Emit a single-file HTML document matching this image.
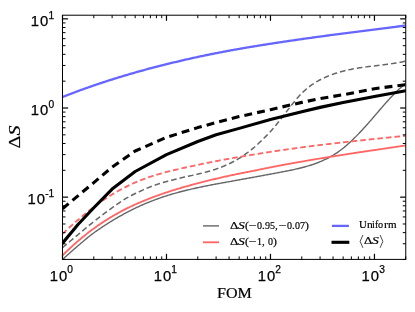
<!DOCTYPE html><html><head><meta charset="utf-8"><title>chart</title><style>

html,body{margin:0;padding:0;background:#fff;}
body{width:415px;height:312px;position:relative;overflow:hidden;font-family:"Liberation Sans",sans-serif;color:#000;}
.t{position:absolute;white-space:nowrap;line-height:1;}
#txt{position:absolute;left:0;top:0;width:415px;height:312px;will-change:transform;transform:translateZ(0);}
.tl{font-family:"Liberation Sans",sans-serif;font-size:14.8px;letter-spacing:1.0px;-webkit-text-stroke:0.25px #000;}
.tl sup{font-size:10.2px;position:relative;vertical-align:baseline;top:-7.5px;letter-spacing:0;margin-left:-0.8px}
.se{font-family:"Liberation Serif",serif;-webkit-text-stroke:0.2px #000;}
.lg{font-family:"Liberation Serif",serif;font-size:10.8px;}
i{font-style:italic}

</style></head><body>
<svg width="415" height="312" viewBox="0 0 415 312" style="position:absolute;left:0;top:0">
<rect x="0" y="0" width="415" height="312" fill="#ffffff"/>
<defs><clipPath id="c"><rect x="62.5" y="15.2" width="343.25" height="244.2"/></clipPath></defs>
<g clip-path="url(#c)" fill="none" stroke-linejoin="round">
<path d="M62.50,259.55 L63.48,258.64 L64.47,257.73 L65.45,256.83 L66.43,255.94 L67.42,255.04 L68.40,254.16 L69.38,253.28 L70.37,252.40 L71.35,251.53 L72.34,250.66 L73.32,249.80 L74.30,248.95 L75.29,248.10 L76.27,247.25 L77.25,246.41 L78.24,245.58 L79.22,244.75 L80.20,243.92 L81.19,243.08 L82.17,242.24 L83.15,241.41 L84.14,240.58 L85.12,239.76 L86.10,238.95 L87.09,238.13 L88.07,237.33 L89.06,236.53 L90.04,235.74 L91.02,234.95 L92.01,234.17 L92.99,233.46 L93.97,232.75 L94.96,232.05 L95.94,231.36 L96.92,230.68 L97.91,229.99 L98.89,229.32 L99.87,228.65 L100.86,227.99 L101.84,227.33 L102.82,226.68 L103.81,226.03 L104.79,225.39 L105.78,224.75 L106.76,224.12 L107.74,223.50 L108.73,222.88 L109.71,222.27 L110.69,221.66 L111.68,221.05 L112.66,220.45 L113.64,219.86 L114.63,219.27 L115.61,218.68 L116.59,218.11 L117.58,217.53 L118.56,216.97 L119.54,216.41 L120.53,215.86 L121.51,215.31 L122.49,214.77 L123.48,214.23 L124.46,213.71 L125.45,213.18 L126.43,212.65 L127.41,212.13 L128.40,211.61 L129.38,211.10 L130.36,210.59 L131.35,210.10 L132.33,209.60 L133.31,209.12 L134.30,208.64 L135.28,208.16 L136.26,207.69 L137.25,207.23 L138.23,206.77 L139.21,206.32 L140.20,205.88 L141.18,205.44 L142.17,205.00 L143.15,204.57 L144.13,204.15 L145.12,203.73 L146.10,203.32 L147.08,202.91 L148.07,202.50 L149.05,202.11 L150.03,201.71 L151.02,201.33 L152.00,200.94 L152.98,200.56 L153.97,200.19 L154.95,199.82 L155.93,199.46 L156.92,199.10 L157.90,198.74 L158.89,198.39 L159.87,198.05 L160.85,197.70 L161.84,197.37 L162.82,197.03 L163.80,196.70 L164.79,196.38 L165.77,196.06 L166.75,195.74 L167.74,195.43 L168.72,195.12 L169.70,194.82 L170.69,194.52 L171.67,194.23 L172.65,193.94 L173.64,193.66 L174.62,193.38 L175.61,193.10 L176.59,192.83 L177.57,192.56 L178.56,192.29 L179.54,192.03 L180.52,191.77 L181.51,191.52 L182.49,191.26 L183.47,191.01 L184.46,190.77 L185.44,190.52 L186.42,190.28 L187.41,190.04 L188.39,189.81 L189.37,189.57 L190.36,189.34 L191.34,189.12 L192.33,188.89 L193.31,188.67 L194.29,188.45 L195.28,188.23 L196.26,188.02 L197.24,187.80 L198.23,187.59 L199.21,187.38 L200.19,187.18 L201.18,186.97 L202.16,186.76 L203.14,186.56 L204.13,186.36 L205.11,186.16 L206.09,185.96 L207.08,185.76 L208.06,185.57 L209.05,185.37 L210.03,185.18 L211.01,184.99 L212.00,184.80 L212.98,184.61 L213.96,184.43 L214.95,184.24 L215.93,184.06 L216.91,183.88 L217.90,183.69 L218.88,183.51 L219.86,183.33 L220.85,183.15 L221.83,182.98 L222.81,182.80 L223.80,182.62 L224.78,182.45 L225.77,182.27 L226.75,182.10 L227.73,181.92 L228.72,181.75 L229.70,181.58 L230.68,181.40 L231.67,181.21 L232.65,181.03 L233.63,180.85 L234.62,180.67 L235.60,180.49 L236.58,180.31 L237.57,180.13 L238.55,179.95 L239.53,179.77 L240.52,179.59 L241.50,179.41 L242.48,179.23 L243.47,179.05 L244.45,178.87 L245.44,178.69 L246.42,178.51 L247.40,178.34 L248.39,178.16 L249.37,177.98 L250.35,177.80 L251.34,177.62 L252.32,177.45 L253.30,177.27 L254.29,177.09 L255.27,176.91 L256.25,176.73 L257.24,176.55 L258.22,176.37 L259.20,176.19 L260.19,176.01 L261.17,175.82 L262.16,175.64 L263.14,175.46 L264.12,175.28 L265.11,175.10 L266.09,174.92 L267.07,174.74 L268.06,174.55 L269.04,174.37 L270.02,174.19 L271.01,174.00 L271.99,173.82 L272.97,173.64 L273.96,173.45 L274.94,173.27 L275.92,173.08 L276.91,172.90 L277.89,172.71 L278.88,172.53 L279.86,172.34 L280.84,172.16 L281.83,171.97 L282.81,171.78 L283.79,171.59 L284.78,171.40 L285.76,171.21 L286.74,171.02 L287.73,170.83 L288.71,170.64 L289.69,170.45 L290.68,170.25 L291.66,170.03 L292.64,169.81 L293.63,169.60 L294.61,169.38 L295.60,169.15 L296.58,168.93 L297.56,168.70 L298.55,168.47 L299.53,168.23 L300.51,167.99 L301.50,167.75 L302.48,167.50 L303.46,167.25 L304.45,166.98 L305.43,166.72 L306.41,166.44 L307.40,166.16 L308.38,165.88 L309.36,165.58 L310.35,165.28 L311.33,164.96 L312.32,164.64 L313.30,164.31 L314.28,163.97 L315.27,163.62 L316.25,163.26 L317.23,162.89 L318.22,162.50 L319.20,162.11 L320.18,161.70 L321.17,161.28 L322.15,160.85 L323.13,160.40 L324.12,159.94 L325.10,159.47 L326.08,159.00 L327.07,158.52 L328.05,158.02 L329.04,157.51 L330.02,156.98 L331.00,156.44 L331.99,155.87 L332.97,155.30 L333.95,154.70 L334.94,154.08 L335.92,153.45 L336.90,152.80 L337.89,152.13 L338.87,151.44 L339.85,150.73 L340.84,150.00 L341.82,149.25 L342.80,148.47 L343.79,147.68 L344.77,146.88 L345.76,146.05 L346.74,145.20 L347.72,144.34 L348.71,143.46 L349.69,142.57 L350.67,141.66 L351.66,140.73 L352.64,139.79 L353.62,138.83 L354.61,137.86 L355.59,136.88 L356.57,135.88 L357.56,134.88 L358.54,133.86 L359.52,132.82 L360.51,131.78 L361.49,130.73 L362.47,129.66 L363.46,128.59 L364.44,127.51 L365.43,126.42 L366.41,125.32 L367.39,124.22 L368.38,123.10 L369.36,121.98 L370.34,120.86 L371.33,119.73 L372.31,118.59 L373.29,117.45 L374.28,116.31 L375.26,115.16 L376.24,114.01 L377.23,112.86 L378.21,111.71 L379.19,110.57 L380.18,109.42 L381.16,108.28 L382.15,107.14 L383.13,106.01 L384.11,104.88 L385.10,103.76 L386.08,102.65 L387.06,101.55 L388.05,100.45 L389.03,99.37 L390.01,98.29 L391.00,97.23 L391.98,96.18 L392.96,95.15 L393.95,94.13 L394.93,93.13 L395.91,92.14 L396.90,91.18 L397.88,90.23 L398.87,89.30 L399.85,88.39 L400.83,87.50 L401.82,86.64 L402.80,85.81 L403.78,84.99 L404.77,84.20 L405.75,83.44" stroke="#666666" stroke-width="1.4"/>
<path d="M62.50,247.73 L63.48,246.87 L64.47,246.01 L65.45,245.16 L66.43,244.32 L67.42,243.49 L68.40,242.66 L69.38,241.84 L70.37,241.03 L71.35,240.22 L72.34,239.42 L73.32,238.63 L74.30,237.84 L75.29,237.03 L76.27,236.17 L77.25,235.32 L78.24,234.48 L79.22,233.64 L80.20,232.80 L81.19,231.97 L82.17,231.14 L83.15,230.32 L84.14,229.50 L85.12,228.68 L86.10,227.87 L87.09,227.06 L88.07,226.26 L89.06,225.45 L90.04,224.66 L91.02,223.86 L92.01,223.07 L92.99,222.28 L93.97,221.49 L94.96,220.70 L95.94,219.91 L96.92,219.13 L97.91,218.35 L98.89,217.57 L99.87,216.79 L100.86,216.06 L101.84,215.33 L102.82,214.60 L103.81,213.88 L104.79,213.15 L105.78,212.43 L106.76,211.71 L107.74,210.99 L108.73,210.27 L109.71,209.56 L110.69,208.84 L111.68,208.14 L112.66,207.43 L113.64,206.73 L114.63,206.03 L115.61,205.33 L116.59,204.64 L117.58,203.96 L118.56,203.28 L119.54,202.61 L120.53,201.94 L121.51,201.27 L122.49,200.62 L123.48,199.97 L124.46,199.32 L125.45,198.72 L126.43,198.16 L127.41,197.61 L128.40,197.07 L129.38,196.54 L130.36,196.01 L131.35,195.50 L132.33,194.99 L133.31,194.49 L134.30,194.00 L135.28,193.53 L136.26,193.06 L137.25,192.60 L138.23,192.16 L139.21,191.72 L140.20,191.29 L141.18,190.81 L142.17,190.34 L143.15,189.88 L144.13,189.43 L145.12,188.99 L146.10,188.57 L147.08,188.15 L148.07,187.74 L149.05,187.34 L150.03,186.95 L151.02,186.57 L152.00,186.19 L152.98,185.83 L153.97,185.47 L154.95,185.12 L155.93,184.78 L156.92,184.45 L157.90,184.12 L158.89,183.80 L159.87,183.49 L160.85,183.18 L161.84,182.88 L162.82,182.59 L163.80,182.30 L164.79,182.02 L165.77,181.74 L166.75,181.46 L167.74,181.20 L168.72,180.93 L169.70,180.67 L170.69,180.41 L171.67,180.16 L172.65,179.91 L173.64,179.66 L174.62,179.42 L175.61,179.18 L176.59,178.94 L177.57,178.70 L178.56,178.47 L179.54,178.23 L180.52,178.00 L181.51,177.77 L182.49,177.54 L183.47,177.31 L184.46,177.08 L185.44,176.86 L186.42,176.65 L187.41,176.45 L188.39,176.24 L189.37,176.03 L190.36,175.82 L191.34,175.61 L192.33,175.39 L193.31,175.18 L194.29,174.96 L195.28,174.74 L196.26,174.52 L197.24,174.30 L198.23,174.07 L199.21,173.83 L200.19,173.60 L201.18,173.36 L202.16,173.12 L203.14,172.87 L204.13,172.61 L205.11,172.36 L206.09,172.09 L207.08,171.83 L208.06,171.55 L209.05,171.27 L210.03,170.98 L211.01,170.69 L212.00,170.38 L212.98,170.07 L213.96,169.76 L214.95,169.43 L215.93,169.10 L216.91,168.76 L217.90,168.41 L218.88,168.05 L219.86,167.69 L220.85,167.31 L221.83,166.93 L222.81,166.54 L223.80,166.13 L224.78,165.72 L225.77,165.30 L226.75,164.86 L227.73,164.42 L228.72,163.96 L229.70,163.50 L230.68,163.02 L231.67,162.53 L232.65,162.03 L233.63,161.52 L234.62,160.99 L235.60,160.44 L236.58,159.88 L237.57,159.30 L238.55,158.71 L239.53,158.11 L240.52,157.49 L241.50,156.86 L242.48,156.22 L243.47,155.55 L244.45,154.88 L245.44,154.19 L246.42,153.48 L247.40,152.76 L248.39,152.02 L249.37,151.27 L250.35,150.50 L251.34,149.71 L252.32,148.91 L253.30,148.09 L254.29,147.26 L255.27,146.40 L256.25,145.53 L257.24,144.64 L258.22,143.74 L259.20,142.82 L260.19,141.88 L261.17,140.92 L262.16,139.95 L263.14,139.03 L264.12,138.08 L265.11,137.12 L266.09,136.14 L267.07,135.14 L268.06,134.12 L269.04,133.08 L270.02,132.02 L271.01,130.95 L271.99,129.85 L272.97,128.73 L273.96,127.60 L274.94,126.45 L275.92,125.28 L276.91,124.04 L277.89,122.79 L278.88,121.53 L279.86,120.26 L280.84,118.98 L281.83,117.70 L282.81,116.43 L283.79,115.15 L284.78,113.88 L285.76,112.61 L286.74,111.34 L287.73,110.09 L288.71,108.84 L289.69,107.61 L290.68,106.35 L291.66,105.08 L292.64,103.82 L293.63,102.58 L294.61,101.37 L295.60,100.17 L296.58,98.99 L297.56,97.84 L298.55,96.71 L299.53,95.61 L300.51,94.55 L301.50,93.55 L302.48,92.57 L303.46,91.63 L304.45,90.72 L305.43,89.83 L306.41,88.98 L307.40,88.15 L308.38,87.36 L309.36,86.59 L310.35,85.85 L311.33,85.13 L312.32,84.44 L313.30,83.77 L314.28,83.12 L315.27,82.50 L316.25,81.91 L317.23,81.34 L318.22,80.79 L319.20,80.26 L320.18,79.75 L321.17,79.25 L322.15,78.76 L323.13,78.29 L324.12,77.83 L325.10,77.39 L326.08,76.96 L327.07,76.53 L328.05,76.12 L329.04,75.73 L330.02,75.34 L331.00,74.96 L331.99,74.60 L332.97,74.24 L333.95,73.90 L334.94,73.57 L335.92,73.24 L336.90,72.93 L337.89,72.63 L338.87,72.33 L339.85,72.04 L340.84,71.77 L341.82,71.50 L342.80,71.24 L343.79,70.99 L344.77,70.74 L345.76,70.50 L346.74,70.27 L347.72,70.05 L348.71,69.84 L349.69,69.63 L350.67,69.43 L351.66,69.23 L352.64,69.04 L353.62,68.85 L354.61,68.67 L355.59,68.50 L356.57,68.33 L357.56,68.17 L358.54,68.01 L359.52,67.85 L360.51,67.70 L361.49,67.56 L362.47,67.41 L363.46,67.27 L364.44,67.14 L365.43,67.00 L366.41,66.87 L367.39,66.74 L368.38,66.61 L369.36,66.49 L370.34,66.37 L371.33,66.25 L372.31,66.13 L373.29,66.01 L374.28,65.89 L375.26,65.77 L376.24,65.65 L377.23,65.54 L378.21,65.42 L379.19,65.30 L380.18,65.18 L381.16,65.06 L382.15,64.94 L383.13,64.82 L384.11,64.70 L385.10,64.57 L386.08,64.45 L387.06,64.32 L388.05,64.19 L389.03,64.05 L390.01,63.91 L391.00,63.77 L391.98,63.63 L392.96,63.48 L393.95,63.33 L394.93,63.18 L395.91,63.02 L396.90,62.85 L397.88,62.68 L398.87,62.51 L399.85,62.33 L400.83,62.15 L401.82,61.95 L402.80,61.76 L403.78,61.56 L404.77,61.35 L405.75,61.13" stroke="#666666" stroke-width="1.5" stroke-dasharray="5.6 3.02"/>
<path d="M62.50,255.42 L63.48,254.45 L64.47,253.48 L65.45,252.53 L66.43,251.58 L67.42,250.64 L68.40,249.71 L69.38,248.79 L70.37,247.88 L71.35,246.97 L72.34,246.08 L73.32,245.19 L74.30,244.31 L75.29,243.44 L76.27,242.58 L77.25,241.72 L78.24,240.88 L79.22,240.04 L80.20,239.21 L81.19,238.39 L82.17,237.57 L83.15,236.76 L84.14,235.97 L85.12,235.18 L86.10,234.39 L87.09,233.62 L88.07,232.85 L89.06,232.09 L90.04,231.33 L91.02,230.59 L92.01,229.85 L92.99,229.12 L93.97,228.39 L94.96,227.68 L95.94,226.97 L96.92,226.26 L97.91,225.57 L98.89,224.88 L99.87,224.20 L100.86,223.54 L101.84,222.89 L102.82,222.24 L103.81,221.60 L104.79,220.97 L105.78,220.35 L106.76,219.73 L107.74,219.12 L108.73,218.51 L109.71,217.91 L110.69,217.32 L111.68,216.73 L112.66,216.15 L113.64,215.57 L114.63,215.01 L115.61,214.44 L116.59,213.89 L117.58,213.33 L118.56,212.79 L119.54,212.25 L120.53,211.71 L121.51,211.19 L122.49,210.66 L123.48,210.15 L124.46,209.63 L125.45,209.13 L126.43,208.64 L127.41,208.16 L128.40,207.68 L129.38,207.21 L130.36,206.74 L131.35,206.27 L132.33,205.82 L133.31,205.36 L134.30,204.91 L135.28,204.47 L136.26,204.03 L137.25,203.60 L138.23,203.17 L139.21,202.74 L140.20,202.32 L141.18,201.90 L142.17,201.49 L143.15,201.08 L144.13,200.68 L145.12,200.28 L146.10,199.89 L147.08,199.50 L148.07,199.11 L149.05,198.73 L150.03,198.35 L151.02,197.97 L152.00,197.59 L152.98,197.21 L153.97,196.84 L154.95,196.48 L155.93,196.11 L156.92,195.75 L157.90,195.40 L158.89,195.04 L159.87,194.69 L160.85,194.35 L161.84,194.00 L162.82,193.66 L163.80,193.33 L164.79,192.99 L165.77,192.66 L166.75,192.34 L167.74,192.01 L168.72,191.69 L169.70,191.37 L170.69,191.06 L171.67,190.74 L172.65,190.43 L173.64,190.13 L174.62,189.82 L175.61,189.52 L176.59,189.22 L177.57,188.92 L178.56,188.62 L179.54,188.33 L180.52,188.04 L181.51,187.75 L182.49,187.46 L183.47,187.18 L184.46,186.89 L185.44,186.61 L186.42,186.34 L187.41,186.07 L188.39,185.80 L189.37,185.53 L190.36,185.26 L191.34,184.99 L192.33,184.73 L193.31,184.46 L194.29,184.20 L195.28,183.94 L196.26,183.68 L197.24,183.43 L198.23,183.17 L199.21,182.92 L200.19,182.66 L201.18,182.41 L202.16,182.16 L203.14,181.91 L204.13,181.66 L205.11,181.41 L206.09,181.16 L207.08,180.91 L208.06,180.67 L209.05,180.43 L210.03,180.19 L211.01,179.95 L212.00,179.71 L212.98,179.47 L213.96,179.23 L214.95,179.00 L215.93,178.77 L216.91,178.53 L217.90,178.30 L218.88,178.07 L219.86,177.85 L220.85,177.62 L221.83,177.39 L222.81,177.17 L223.80,176.95 L224.78,176.72 L225.77,176.50 L226.75,176.28 L227.73,176.07 L228.72,175.85 L229.70,175.63 L230.68,175.42 L231.67,175.21 L232.65,175.00 L233.63,174.79 L234.62,174.58 L235.60,174.38 L236.58,174.17 L237.57,173.97 L238.55,173.77 L239.53,173.56 L240.52,173.36 L241.50,173.16 L242.48,172.97 L243.47,172.77 L244.45,172.57 L245.44,172.38 L246.42,172.18 L247.40,171.99 L248.39,171.80 L249.37,171.61 L250.35,171.42 L251.34,171.23 L252.32,171.04 L253.30,170.85 L254.29,170.67 L255.27,170.47 L256.25,170.27 L257.24,170.06 L258.22,169.86 L259.20,169.65 L260.19,169.45 L261.17,169.25 L262.16,169.04 L263.14,168.84 L264.12,168.64 L265.11,168.45 L266.09,168.25 L267.07,168.05 L268.06,167.85 L269.04,167.66 L270.02,167.46 L271.01,167.27 L271.99,167.08 L272.97,166.89 L273.96,166.70 L274.94,166.51 L275.92,166.32 L276.91,166.13 L277.89,165.94 L278.88,165.75 L279.86,165.57 L280.84,165.38 L281.83,165.19 L282.81,165.01 L283.79,164.83 L284.78,164.64 L285.76,164.46 L286.74,164.28 L287.73,164.10 L288.71,163.92 L289.69,163.74 L290.68,163.56 L291.66,163.38 L292.64,163.21 L293.63,163.03 L294.61,162.85 L295.60,162.68 L296.58,162.50 L297.56,162.33 L298.55,162.16 L299.53,161.98 L300.51,161.81 L301.50,161.64 L302.48,161.47 L303.46,161.30 L304.45,161.13 L305.43,160.96 L306.41,160.79 L307.40,160.62 L308.38,160.45 L309.36,160.28 L310.35,160.11 L311.33,159.95 L312.32,159.78 L313.30,159.61 L314.28,159.45 L315.27,159.28 L316.25,159.12 L317.23,158.95 L318.22,158.79 L319.20,158.63 L320.18,158.46 L321.17,158.30 L322.15,158.14 L323.13,157.98 L324.12,157.82 L325.10,157.66 L326.08,157.50 L327.07,157.34 L328.05,157.18 L329.04,157.03 L330.02,156.87 L331.00,156.71 L331.99,156.56 L332.97,156.40 L333.95,156.24 L334.94,156.09 L335.92,155.93 L336.90,155.78 L337.89,155.62 L338.87,155.47 L339.85,155.31 L340.84,155.16 L341.82,155.01 L342.80,154.85 L343.79,154.70 L344.77,154.55 L345.76,154.39 L346.74,154.24 L347.72,154.09 L348.71,153.93 L349.69,153.78 L350.67,153.63 L351.66,153.48 L352.64,153.32 L353.62,153.17 L354.61,153.02 L355.59,152.87 L356.57,152.72 L357.56,152.56 L358.54,152.41 L359.52,152.26 L360.51,152.11 L361.49,151.97 L362.47,151.83 L363.46,151.68 L364.44,151.54 L365.43,151.40 L366.41,151.25 L367.39,151.11 L368.38,150.96 L369.36,150.82 L370.34,150.68 L371.33,150.53 L372.31,150.39 L373.29,150.25 L374.28,150.10 L375.26,149.96 L376.24,149.81 L377.23,149.67 L378.21,149.52 L379.19,149.38 L380.18,149.23 L381.16,149.09 L382.15,148.94 L383.13,148.80 L384.11,148.65 L385.10,148.51 L386.08,148.36 L387.06,148.22 L388.05,148.07 L389.03,147.92 L390.01,147.78 L391.00,147.63 L391.98,147.48 L392.96,147.33 L393.95,147.19 L394.93,147.04 L395.91,146.89 L396.90,146.74 L397.88,146.59 L398.87,146.44 L399.85,146.29 L400.83,146.14 L401.82,145.99 L402.80,145.84 L403.78,145.69 L404.77,145.54 L405.75,145.38" stroke="#ff6666" stroke-width="1.85"/>
<path d="M62.50,233.89 L63.48,232.98 L64.47,232.06 L65.45,231.15 L66.43,230.25 L67.42,229.34 L68.40,228.44 L69.38,227.55 L70.37,226.66 L71.35,225.78 L72.34,224.90 L73.32,224.02 L74.30,223.15 L75.29,222.28 L76.27,221.42 L77.25,220.57 L78.24,219.71 L79.22,218.87 L80.20,218.03 L81.19,217.20 L82.17,216.37 L83.15,215.54 L84.14,214.73 L85.12,213.92 L86.10,213.11 L87.09,212.32 L88.07,211.52 L89.06,210.74 L90.04,209.96 L91.02,209.19 L92.01,208.42 L92.99,207.67 L93.97,206.92 L94.96,206.17 L95.94,205.44 L96.92,204.71 L97.91,203.99 L98.89,203.27 L99.87,202.57 L100.86,201.87 L101.84,201.18 L102.82,200.50 L103.81,199.82 L104.79,199.16 L105.78,198.50 L106.76,197.85 L107.74,197.22 L108.73,196.58 L109.71,195.96 L110.69,195.35 L111.68,194.74 L112.66,194.14 L113.64,193.55 L114.63,192.97 L115.61,192.40 L116.59,191.83 L117.58,191.28 L118.56,190.73 L119.54,190.18 L120.53,189.65 L121.51,189.12 L122.49,188.60 L123.48,188.08 L124.46,187.58 L125.45,187.08 L126.43,186.59 L127.41,186.10 L128.40,185.62 L129.38,185.15 L130.36,184.69 L131.35,184.23 L132.33,183.78 L133.31,183.34 L134.30,182.90 L135.28,182.47 L136.26,182.05 L137.25,181.63 L138.23,181.22 L139.21,180.82 L140.20,180.42 L141.18,180.04 L142.17,179.67 L143.15,179.30 L144.13,178.94 L145.12,178.58 L146.10,178.23 L147.08,177.88 L148.07,177.54 L149.05,177.21 L150.03,176.88 L151.02,176.55 L152.00,176.23 L152.98,175.92 L153.97,175.61 L154.95,175.30 L155.93,175.00 L156.92,174.71 L157.90,174.42 L158.89,174.13 L159.87,173.84 L160.85,173.56 L161.84,173.29 L162.82,173.01 L163.80,172.75 L164.79,172.48 L165.77,172.22 L166.75,171.96 L167.74,171.70 L168.72,171.45 L169.70,171.20 L170.69,170.96 L171.67,170.71 L172.65,170.47 L173.64,170.23 L174.62,169.99 L175.61,169.76 L176.59,169.53 L177.57,169.30 L178.56,169.07 L179.54,168.84 L180.52,168.62 L181.51,168.39 L182.49,168.17 L183.47,167.95 L184.46,167.73 L185.44,167.52 L186.42,167.30 L187.41,167.09 L188.39,166.88 L189.37,166.67 L190.36,166.46 L191.34,166.25 L192.33,166.04 L193.31,165.83 L194.29,165.62 L195.28,165.41 L196.26,165.21 L197.24,165.00 L198.23,164.79 L199.21,164.59 L200.19,164.38 L201.18,164.18 L202.16,163.97 L203.14,163.77 L204.13,163.57 L205.11,163.36 L206.09,163.16 L207.08,162.96 L208.06,162.76 L209.05,162.56 L210.03,162.36 L211.01,162.16 L212.00,161.97 L212.98,161.77 L213.96,161.57 L214.95,161.38 L215.93,161.19 L216.91,161.00 L217.90,160.81 L218.88,160.62 L219.86,160.44 L220.85,160.25 L221.83,160.07 L222.81,159.88 L223.80,159.70 L224.78,159.52 L225.77,159.34 L226.75,159.16 L227.73,158.98 L228.72,158.80 L229.70,158.62 L230.68,158.45 L231.67,158.27 L232.65,158.10 L233.63,157.92 L234.62,157.75 L235.60,157.58 L236.58,157.41 L237.57,157.24 L238.55,157.07 L239.53,156.90 L240.52,156.74 L241.50,156.57 L242.48,156.41 L243.47,156.24 L244.45,156.08 L245.44,155.92 L246.42,155.76 L247.40,155.60 L248.39,155.44 L249.37,155.28 L250.35,155.12 L251.34,154.95 L252.32,154.78 L253.30,154.62 L254.29,154.45 L255.27,154.29 L256.25,154.12 L257.24,153.96 L258.22,153.80 L259.20,153.64 L260.19,153.48 L261.17,153.32 L262.16,153.16 L263.14,153.00 L264.12,152.85 L265.11,152.69 L266.09,152.53 L267.07,152.38 L268.06,152.23 L269.04,152.07 L270.02,151.92 L271.01,151.77 L271.99,151.62 L272.97,151.47 L273.96,151.32 L274.94,151.17 L275.92,151.02 L276.91,150.87 L277.89,150.73 L278.88,150.58 L279.86,150.44 L280.84,150.29 L281.83,150.15 L282.81,150.01 L283.79,149.86 L284.78,149.72 L285.76,149.58 L286.74,149.44 L287.73,149.30 L288.71,149.16 L289.69,149.03 L290.68,148.89 L291.66,148.75 L292.64,148.61 L293.63,148.48 L294.61,148.34 L295.60,148.21 L296.58,148.08 L297.56,147.94 L298.55,147.81 L299.53,147.68 L300.51,147.55 L301.50,147.42 L302.48,147.29 L303.46,147.16 L304.45,147.03 L305.43,146.90 L306.41,146.77 L307.40,146.64 L308.38,146.52 L309.36,146.39 L310.35,146.26 L311.33,146.14 L312.32,146.01 L313.30,145.89 L314.28,145.77 L315.27,145.64 L316.25,145.52 L317.23,145.40 L318.22,145.28 L319.20,145.16 L320.18,145.04 L321.17,144.92 L322.15,144.80 L323.13,144.68 L324.12,144.56 L325.10,144.44 L326.08,144.32 L327.07,144.20 L328.05,144.09 L329.04,143.97 L330.02,143.86 L331.00,143.74 L331.99,143.62 L332.97,143.51 L333.95,143.39 L334.94,143.28 L335.92,143.17 L336.90,143.05 L337.89,142.94 L338.87,142.83 L339.85,142.72 L340.84,142.60 L341.82,142.49 L342.80,142.38 L343.79,142.27 L344.77,142.16 L345.76,142.05 L346.74,141.94 L347.72,141.83 L348.71,141.72 L349.69,141.61 L350.67,141.51 L351.66,141.40 L352.64,141.29 L353.62,141.18 L354.61,141.08 L355.59,140.97 L356.57,140.86 L357.56,140.76 L358.54,140.65 L359.52,140.54 L360.51,140.44 L361.49,140.33 L362.47,140.23 L363.46,140.12 L364.44,140.02 L365.43,139.91 L366.41,139.81 L367.39,139.71 L368.38,139.60 L369.36,139.50 L370.34,139.39 L371.33,139.29 L372.31,139.19 L373.29,139.09 L374.28,138.98 L375.26,138.88 L376.24,138.78 L377.23,138.68 L378.21,138.57 L379.19,138.47 L380.18,138.37 L381.16,138.27 L382.15,138.17 L383.13,138.07 L384.11,137.97 L385.10,137.86 L386.08,137.76 L387.06,137.66 L388.05,137.56 L389.03,137.46 L390.01,137.36 L391.00,137.26 L391.98,137.16 L392.96,137.06 L393.95,136.96 L394.93,136.86 L395.91,136.76 L396.90,136.66 L397.88,136.56 L398.87,136.46 L399.85,136.36 L400.83,136.26 L401.82,136.16 L402.80,136.06 L403.78,135.96 L404.77,135.86 L405.75,135.76" stroke="#ff6666" stroke-width="1.85" stroke-dasharray="5.6 3.02"/>
<path d="M62.50,97.05 L63.48,96.66 L64.47,96.27 L65.45,95.88 L66.43,95.49 L67.42,95.11 L68.40,94.73 L69.38,94.35 L70.37,93.97 L71.35,93.59 L72.34,93.22 L73.32,92.85 L74.30,92.48 L75.29,92.11 L76.27,91.74 L77.25,91.38 L78.24,91.01 L79.22,90.65 L80.20,90.29 L81.19,89.94 L82.17,89.58 L83.15,89.23 L84.14,88.87 L85.12,88.52 L86.10,88.17 L87.09,87.83 L88.07,87.48 L89.06,87.14 L90.04,86.80 L91.02,86.46 L92.01,86.12 L92.99,85.78 L93.97,85.45 L94.96,85.11 L95.94,84.78 L96.92,84.45 L97.91,84.12 L98.89,83.78 L99.87,83.45 L100.86,83.12 L101.84,82.79 L102.82,82.46 L103.81,82.14 L104.79,81.81 L105.78,81.49 L106.76,81.17 L107.74,80.85 L108.73,80.53 L109.71,80.22 L110.69,79.90 L111.68,79.59 L112.66,79.28 L113.64,78.97 L114.63,78.66 L115.61,78.35 L116.59,78.05 L117.58,77.75 L118.56,77.44 L119.54,77.14 L120.53,76.84 L121.51,76.55 L122.49,76.25 L123.48,75.96 L124.46,75.67 L125.45,75.37 L126.43,75.09 L127.41,74.80 L128.40,74.51 L129.38,74.23 L130.36,73.94 L131.35,73.65 L132.33,73.36 L133.31,73.08 L134.30,72.79 L135.28,72.51 L136.26,72.23 L137.25,71.95 L138.23,71.67 L139.21,71.39 L140.20,71.12 L141.18,70.85 L142.17,70.57 L143.15,70.30 L144.13,70.03 L145.12,69.76 L146.10,69.50 L147.08,69.23 L148.07,68.97 L149.05,68.70 L150.03,68.44 L151.02,68.18 L152.00,67.92 L152.98,67.66 L153.97,67.41 L154.95,67.15 L155.93,66.90 L156.92,66.65 L157.90,66.39 L158.89,66.15 L159.87,65.90 L160.85,65.65 L161.84,65.40 L162.82,65.16 L163.80,64.92 L164.79,64.67 L165.77,64.43 L166.75,64.19 L167.74,63.95 L168.72,63.70 L169.70,63.46 L170.69,63.21 L171.67,62.97 L172.65,62.73 L173.64,62.49 L174.62,62.25 L175.61,62.01 L176.59,61.78 L177.57,61.54 L178.56,61.31 L179.54,61.07 L180.52,60.84 L181.51,60.61 L182.49,60.38 L183.47,60.15 L184.46,59.93 L185.44,59.70 L186.42,59.47 L187.41,59.25 L188.39,59.03 L189.37,58.81 L190.36,58.59 L191.34,58.37 L192.33,58.15 L193.31,57.93 L194.29,57.71 L195.28,57.50 L196.26,57.28 L197.24,57.07 L198.23,56.86 L199.21,56.65 L200.19,56.44 L201.18,56.23 L202.16,56.02 L203.14,55.81 L204.13,55.61 L205.11,55.40 L206.09,55.20 L207.08,55.00 L208.06,54.79 L209.05,54.59 L210.03,54.39 L211.01,54.19 L212.00,54.00 L212.98,53.80 L213.96,53.60 L214.95,53.41 L215.93,53.21 L216.91,53.02 L217.90,52.83 L218.88,52.63 L219.86,52.44 L220.85,52.26 L221.83,52.07 L222.81,51.88 L223.80,51.70 L224.78,51.51 L225.77,51.33 L226.75,51.14 L227.73,50.96 L228.72,50.78 L229.70,50.60 L230.68,50.42 L231.67,50.24 L232.65,50.06 L233.63,49.89 L234.62,49.71 L235.60,49.53 L236.58,49.36 L237.57,49.18 L238.55,49.01 L239.53,48.84 L240.52,48.67 L241.50,48.50 L242.48,48.33 L243.47,48.16 L244.45,47.99 L245.44,47.82 L246.42,47.65 L247.40,47.49 L248.39,47.32 L249.37,47.15 L250.35,46.99 L251.34,46.83 L252.32,46.66 L253.30,46.50 L254.29,46.34 L255.27,46.18 L256.25,46.02 L257.24,45.86 L258.22,45.70 L259.20,45.54 L260.19,45.38 L261.17,45.22 L262.16,45.07 L263.14,44.91 L264.12,44.76 L265.11,44.60 L266.09,44.45 L267.07,44.29 L268.06,44.14 L269.04,43.98 L270.02,43.83 L271.01,43.67 L271.99,43.52 L272.97,43.37 L273.96,43.22 L274.94,43.06 L275.92,42.91 L276.91,42.76 L277.89,42.61 L278.88,42.46 L279.86,42.31 L280.84,42.17 L281.83,42.02 L282.81,41.87 L283.79,41.72 L284.78,41.58 L285.76,41.43 L286.74,41.28 L287.73,41.14 L288.71,40.99 L289.69,40.85 L290.68,40.71 L291.66,40.56 L292.64,40.42 L293.63,40.28 L294.61,40.13 L295.60,39.99 L296.58,39.85 L297.56,39.71 L298.55,39.57 L299.53,39.43 L300.51,39.29 L301.50,39.15 L302.48,39.01 L303.46,38.87 L304.45,38.73 L305.43,38.59 L306.41,38.46 L307.40,38.32 L308.38,38.18 L309.36,38.04 L310.35,37.91 L311.33,37.77 L312.32,37.64 L313.30,37.50 L314.28,37.36 L315.27,37.23 L316.25,37.09 L317.23,36.96 L318.22,36.83 L319.20,36.69 L320.18,36.56 L321.17,36.42 L322.15,36.29 L323.13,36.16 L324.12,36.02 L325.10,35.89 L326.08,35.76 L327.07,35.63 L328.05,35.49 L329.04,35.36 L330.02,35.23 L331.00,35.10 L331.99,34.98 L332.97,34.85 L333.95,34.72 L334.94,34.60 L335.92,34.47 L336.90,34.34 L337.89,34.22 L338.87,34.09 L339.85,33.97 L340.84,33.84 L341.82,33.72 L342.80,33.59 L343.79,33.46 L344.77,33.34 L345.76,33.21 L346.74,33.09 L347.72,32.96 L348.71,32.84 L349.69,32.71 L350.67,32.59 L351.66,32.46 L352.64,32.34 L353.62,32.21 L354.61,32.09 L355.59,31.96 L356.57,31.84 L357.56,31.72 L358.54,31.59 L359.52,31.47 L360.51,31.34 L361.49,31.22 L362.47,31.09 L363.46,30.97 L364.44,30.84 L365.43,30.72 L366.41,30.59 L367.39,30.47 L368.38,30.34 L369.36,30.21 L370.34,30.09 L371.33,29.96 L372.31,29.84 L373.29,29.71 L374.28,29.59 L375.26,29.46 L376.24,29.33 L377.23,29.21 L378.21,29.08 L379.19,28.96 L380.18,28.83 L381.16,28.70 L382.15,28.57 L383.13,28.45 L384.11,28.32 L385.10,28.19 L386.08,28.06 L387.06,27.94 L388.05,27.81 L389.03,27.68 L390.01,27.55 L391.00,27.42 L391.98,27.29 L392.96,27.16 L393.95,27.04 L394.93,26.91 L395.91,26.78 L396.90,26.65 L397.88,26.51 L398.87,26.38 L399.85,26.25 L400.83,26.12 L401.82,25.99 L402.80,25.86 L403.78,25.73 L404.77,25.59 L405.75,25.46" stroke="#6666ff" stroke-width="2.3"/>
<path d="M58.50,247.99 L62.50,243.18 L78.00,224.55 L93.80,207.78 L112.11,189.06 L135.18,171.51 L166.48,154.61 L197.78,141.45 L216.10,134.81 L239.16,128.38 L270.47,119.48 L301.77,111.77 L320.08,107.37 L343.15,102.56 L374.45,96.45 L405.75,90.65 L409.75,89.91" stroke="#000" stroke-width="3.1"/>
<path d="M62.50,208.71 L93.80,182.61 L112.11,167.06 L135.18,151.03 L166.48,137.33 L197.78,127.61 L216.10,122.49 L239.16,116.59 L270.47,109.67 L301.77,102.37 L320.08,98.62 L343.15,94.75 L374.45,88.71 L405.75,84.64" stroke="#000" stroke-width="3.1" stroke-dasharray="7.9 5.1"/>
</g>
<g stroke="#000"><line x1="62.50" y1="259.40" x2="62.50" y2="253.80" stroke-width="1.2"/><line x1="62.50" y1="15.20" x2="62.50" y2="20.80" stroke-width="1.2"/><line x1="93.80" y1="259.40" x2="93.80" y2="256.40" stroke-width="1.0"/><line x1="93.80" y1="15.20" x2="93.80" y2="18.20" stroke-width="1.0"/><line x1="112.11" y1="259.40" x2="112.11" y2="256.40" stroke-width="1.0"/><line x1="112.11" y1="15.20" x2="112.11" y2="18.20" stroke-width="1.0"/><line x1="125.10" y1="259.40" x2="125.10" y2="256.40" stroke-width="1.0"/><line x1="125.10" y1="15.20" x2="125.10" y2="18.20" stroke-width="1.0"/><line x1="135.18" y1="259.40" x2="135.18" y2="256.40" stroke-width="1.0"/><line x1="135.18" y1="15.20" x2="135.18" y2="18.20" stroke-width="1.0"/><line x1="143.41" y1="259.40" x2="143.41" y2="256.40" stroke-width="1.0"/><line x1="143.41" y1="15.20" x2="143.41" y2="18.20" stroke-width="1.0"/><line x1="150.38" y1="259.40" x2="150.38" y2="256.40" stroke-width="1.0"/><line x1="150.38" y1="15.20" x2="150.38" y2="18.20" stroke-width="1.0"/><line x1="156.41" y1="259.40" x2="156.41" y2="256.40" stroke-width="1.0"/><line x1="156.41" y1="15.20" x2="156.41" y2="18.20" stroke-width="1.0"/><line x1="161.72" y1="259.40" x2="161.72" y2="256.40" stroke-width="1.0"/><line x1="161.72" y1="15.20" x2="161.72" y2="18.20" stroke-width="1.0"/><line x1="166.48" y1="259.40" x2="166.48" y2="253.80" stroke-width="1.2"/><line x1="166.48" y1="15.20" x2="166.48" y2="20.80" stroke-width="1.2"/><line x1="197.78" y1="259.40" x2="197.78" y2="256.40" stroke-width="1.0"/><line x1="197.78" y1="15.20" x2="197.78" y2="18.20" stroke-width="1.0"/><line x1="216.10" y1="259.40" x2="216.10" y2="256.40" stroke-width="1.0"/><line x1="216.10" y1="15.20" x2="216.10" y2="18.20" stroke-width="1.0"/><line x1="229.09" y1="259.40" x2="229.09" y2="256.40" stroke-width="1.0"/><line x1="229.09" y1="15.20" x2="229.09" y2="18.20" stroke-width="1.0"/><line x1="239.16" y1="259.40" x2="239.16" y2="256.40" stroke-width="1.0"/><line x1="239.16" y1="15.20" x2="239.16" y2="18.20" stroke-width="1.0"/><line x1="247.40" y1="259.40" x2="247.40" y2="256.40" stroke-width="1.0"/><line x1="247.40" y1="15.20" x2="247.40" y2="18.20" stroke-width="1.0"/><line x1="254.36" y1="259.40" x2="254.36" y2="256.40" stroke-width="1.0"/><line x1="254.36" y1="15.20" x2="254.36" y2="18.20" stroke-width="1.0"/><line x1="260.39" y1="259.40" x2="260.39" y2="256.40" stroke-width="1.0"/><line x1="260.39" y1="15.20" x2="260.39" y2="18.20" stroke-width="1.0"/><line x1="265.71" y1="259.40" x2="265.71" y2="256.40" stroke-width="1.0"/><line x1="265.71" y1="15.20" x2="265.71" y2="18.20" stroke-width="1.0"/><line x1="270.47" y1="259.40" x2="270.47" y2="253.80" stroke-width="1.2"/><line x1="270.47" y1="15.20" x2="270.47" y2="20.80" stroke-width="1.2"/><line x1="301.77" y1="259.40" x2="301.77" y2="256.40" stroke-width="1.0"/><line x1="301.77" y1="15.20" x2="301.77" y2="18.20" stroke-width="1.0"/><line x1="320.08" y1="259.40" x2="320.08" y2="256.40" stroke-width="1.0"/><line x1="320.08" y1="15.20" x2="320.08" y2="18.20" stroke-width="1.0"/><line x1="333.07" y1="259.40" x2="333.07" y2="256.40" stroke-width="1.0"/><line x1="333.07" y1="15.20" x2="333.07" y2="18.20" stroke-width="1.0"/><line x1="343.15" y1="259.40" x2="343.15" y2="256.40" stroke-width="1.0"/><line x1="343.15" y1="15.20" x2="343.15" y2="18.20" stroke-width="1.0"/><line x1="351.38" y1="259.40" x2="351.38" y2="256.40" stroke-width="1.0"/><line x1="351.38" y1="15.20" x2="351.38" y2="18.20" stroke-width="1.0"/><line x1="358.34" y1="259.40" x2="358.34" y2="256.40" stroke-width="1.0"/><line x1="358.34" y1="15.20" x2="358.34" y2="18.20" stroke-width="1.0"/><line x1="364.37" y1="259.40" x2="364.37" y2="256.40" stroke-width="1.0"/><line x1="364.37" y1="15.20" x2="364.37" y2="18.20" stroke-width="1.0"/><line x1="369.69" y1="259.40" x2="369.69" y2="256.40" stroke-width="1.0"/><line x1="369.69" y1="15.20" x2="369.69" y2="18.20" stroke-width="1.0"/><line x1="374.45" y1="259.40" x2="374.45" y2="253.80" stroke-width="1.2"/><line x1="374.45" y1="15.20" x2="374.45" y2="20.80" stroke-width="1.2"/><line x1="405.75" y1="259.40" x2="405.75" y2="256.40" stroke-width="1.0"/><line x1="405.75" y1="15.20" x2="405.75" y2="18.20" stroke-width="1.0"/><line x1="62.50" y1="259.46" x2="65.50" y2="259.46" stroke-width="1.0"/><line x1="405.75" y1="259.46" x2="402.75" y2="259.46" stroke-width="1.0"/><line x1="62.50" y1="243.76" x2="65.50" y2="243.76" stroke-width="1.0"/><line x1="405.75" y1="243.76" x2="402.75" y2="243.76" stroke-width="1.0"/><line x1="62.50" y1="232.63" x2="65.50" y2="232.63" stroke-width="1.0"/><line x1="405.75" y1="232.63" x2="402.75" y2="232.63" stroke-width="1.0"/><line x1="62.50" y1="223.99" x2="65.50" y2="223.99" stroke-width="1.0"/><line x1="405.75" y1="223.99" x2="402.75" y2="223.99" stroke-width="1.0"/><line x1="62.50" y1="216.93" x2="65.50" y2="216.93" stroke-width="1.0"/><line x1="405.75" y1="216.93" x2="402.75" y2="216.93" stroke-width="1.0"/><line x1="62.50" y1="210.96" x2="65.50" y2="210.96" stroke-width="1.0"/><line x1="405.75" y1="210.96" x2="402.75" y2="210.96" stroke-width="1.0"/><line x1="62.50" y1="205.79" x2="65.50" y2="205.79" stroke-width="1.0"/><line x1="405.75" y1="205.79" x2="402.75" y2="205.79" stroke-width="1.0"/><line x1="62.50" y1="201.23" x2="65.50" y2="201.23" stroke-width="1.0"/><line x1="405.75" y1="201.23" x2="402.75" y2="201.23" stroke-width="1.0"/><line x1="62.50" y1="197.15" x2="68.10" y2="197.15" stroke-width="1.2"/><line x1="405.75" y1="197.15" x2="400.15" y2="197.15" stroke-width="1.2"/><line x1="62.50" y1="170.31" x2="65.50" y2="170.31" stroke-width="1.0"/><line x1="405.75" y1="170.31" x2="402.75" y2="170.31" stroke-width="1.0"/><line x1="62.50" y1="154.61" x2="65.50" y2="154.61" stroke-width="1.0"/><line x1="405.75" y1="154.61" x2="402.75" y2="154.61" stroke-width="1.0"/><line x1="62.50" y1="143.48" x2="65.50" y2="143.48" stroke-width="1.0"/><line x1="405.75" y1="143.48" x2="402.75" y2="143.48" stroke-width="1.0"/><line x1="62.50" y1="134.84" x2="65.50" y2="134.84" stroke-width="1.0"/><line x1="405.75" y1="134.84" x2="402.75" y2="134.84" stroke-width="1.0"/><line x1="62.50" y1="127.78" x2="65.50" y2="127.78" stroke-width="1.0"/><line x1="405.75" y1="127.78" x2="402.75" y2="127.78" stroke-width="1.0"/><line x1="62.50" y1="121.81" x2="65.50" y2="121.81" stroke-width="1.0"/><line x1="405.75" y1="121.81" x2="402.75" y2="121.81" stroke-width="1.0"/><line x1="62.50" y1="116.64" x2="65.50" y2="116.64" stroke-width="1.0"/><line x1="405.75" y1="116.64" x2="402.75" y2="116.64" stroke-width="1.0"/><line x1="62.50" y1="112.08" x2="65.50" y2="112.08" stroke-width="1.0"/><line x1="405.75" y1="112.08" x2="402.75" y2="112.08" stroke-width="1.0"/><line x1="62.50" y1="108.00" x2="68.10" y2="108.00" stroke-width="1.2"/><line x1="405.75" y1="108.00" x2="400.15" y2="108.00" stroke-width="1.2"/><line x1="62.50" y1="81.16" x2="65.50" y2="81.16" stroke-width="1.0"/><line x1="405.75" y1="81.16" x2="402.75" y2="81.16" stroke-width="1.0"/><line x1="62.50" y1="65.46" x2="65.50" y2="65.46" stroke-width="1.0"/><line x1="405.75" y1="65.46" x2="402.75" y2="65.46" stroke-width="1.0"/><line x1="62.50" y1="54.33" x2="65.50" y2="54.33" stroke-width="1.0"/><line x1="405.75" y1="54.33" x2="402.75" y2="54.33" stroke-width="1.0"/><line x1="62.50" y1="45.69" x2="65.50" y2="45.69" stroke-width="1.0"/><line x1="405.75" y1="45.69" x2="402.75" y2="45.69" stroke-width="1.0"/><line x1="62.50" y1="38.63" x2="65.50" y2="38.63" stroke-width="1.0"/><line x1="405.75" y1="38.63" x2="402.75" y2="38.63" stroke-width="1.0"/><line x1="62.50" y1="32.66" x2="65.50" y2="32.66" stroke-width="1.0"/><line x1="405.75" y1="32.66" x2="402.75" y2="32.66" stroke-width="1.0"/><line x1="62.50" y1="27.49" x2="65.50" y2="27.49" stroke-width="1.0"/><line x1="405.75" y1="27.49" x2="402.75" y2="27.49" stroke-width="1.0"/><line x1="62.50" y1="22.93" x2="65.50" y2="22.93" stroke-width="1.0"/><line x1="405.75" y1="22.93" x2="402.75" y2="22.93" stroke-width="1.0"/><line x1="62.50" y1="18.85" x2="68.10" y2="18.85" stroke-width="1.2"/><line x1="405.75" y1="18.85" x2="400.15" y2="18.85" stroke-width="1.2"/></g>
<rect x="62.5" y="15.2" width="343.25" height="244.2" fill="none" stroke="#000" stroke-width="1"/>
<line x1="203" y1="225.9" x2="219" y2="225.9" stroke="#666666" stroke-width="1.4"/>
<line x1="203" y1="242.3" x2="219" y2="242.3" stroke="#ff6666" stroke-width="1.85"/>
<line x1="331.9" y1="225.9" x2="348.9" y2="225.9" stroke="#6666ff" stroke-width="2.3"/>
<line x1="331.5" y1="242.3" x2="349.3" y2="242.3" stroke="#000" stroke-width="3.1"/>
<path d="M362.9,235 L360.1,241.4 L362.9,247.8 M380.1,235 L382.9,241.4 L380.1,247.8" fill="none" stroke="#000" stroke-width="0.7"/>
</svg>
<div id="txt">
<div class="t tl" style="right:360.8px;top:14.0px">10<sup>1</sup></div>
<div class="t tl" style="right:360.8px;top:103.1px">10<sup>0</sup></div>
<div class="t tl" style="right:360.8px;top:192.2px">10<sup>-1</sup></div>
<div class="t tl" style="left:49.7px;top:268.7px">10<sup>0</sup></div>
<div class="t tl" style="left:153.7px;top:268.7px">10<sup>1</sup></div>
<div class="t tl" style="left:257.7px;top:268.7px">10<sup>2</sup></div>
<div class="t tl" style="left:361.6px;top:268.7px">10<sup>3</sup></div>
<div class="t se" style="left:217.4px;top:285.4px;font-size:15.3px;transform-origin:0 0;transform:scaleX(1.05)">FOM</div>
<div class="t se" style="left:14.6px;top:136.9px;font-size:16.8px;transform:translate(-50%,-50%) rotate(-90deg) scaleX(1.19);">&Delta;<i>S</i></div>
<span class="t se" style="left:230.00px;top:221.01px;font-size:10.5px;transform-origin:0 0;transform:scaleX(1.234);">Δ</span><span class="t se" style="left:238.33px;top:221.01px;font-size:10.5px;transform-origin:0 0;transform:scaleX(1.286);font-style:italic;">S</span><span class="t se" style="left:245.08px;top:221.01px;font-size:10.5px;transform-origin:0 0;transform:scaleX(1.113);">(</span><span class="t se" style="left:248.97px;top:221.01px;font-size:10.5px;transform-origin:0 0;transform:scaleX(1.314);">−</span><span class="t se" style="left:256.75px;top:221.01px;font-size:10.5px;transform-origin:0 0;transform:scaleX(0.952);">0</span><span class="t se" style="left:261.75px;top:221.01px;font-size:10.5px;transform-origin:0 0;transform:scaleX(1.059);">.</span><span class="t se" style="left:264.53px;top:221.01px;font-size:10.5px;transform-origin:0 0;transform:scaleX(0.952);">9</span><span class="t se" style="left:269.53px;top:221.01px;font-size:10.5px;transform-origin:0 0;transform:scaleX(0.952);">5</span><span class="t se" style="left:274.53px;top:221.01px;font-size:10.5px;transform-origin:0 0;transform:scaleX(1.059);">,</span><span class="t se" style="left:278.98px;top:221.01px;font-size:10.5px;transform-origin:0 0;transform:scaleX(1.314);">−</span><span class="t se" style="left:286.76px;top:221.01px;font-size:10.5px;transform-origin:0 0;transform:scaleX(0.952);">0</span><span class="t se" style="left:291.76px;top:221.01px;font-size:10.5px;transform-origin:0 0;transform:scaleX(1.059);">.</span><span class="t se" style="left:294.54px;top:221.01px;font-size:10.5px;transform-origin:0 0;transform:scaleX(0.952);">0</span><span class="t se" style="left:299.54px;top:221.01px;font-size:10.5px;transform-origin:0 0;transform:scaleX(0.952);">7</span><span class="t se" style="left:304.54px;top:221.01px;font-size:10.5px;transform-origin:0 0;transform:scaleX(1.113);">)</span>
<span class="t se" style="left:230.00px;top:237.31px;font-size:10.5px;transform-origin:0 0;transform:scaleX(1.234);">Δ</span><span class="t se" style="left:238.33px;top:237.31px;font-size:10.5px;transform-origin:0 0;transform:scaleX(1.286);font-style:italic;">S</span><span class="t se" style="left:245.08px;top:237.31px;font-size:10.5px;transform-origin:0 0;transform:scaleX(1.113);">(</span><span class="t se" style="left:248.97px;top:237.31px;font-size:10.5px;transform-origin:0 0;transform:scaleX(1.314);">−</span><span class="t se" style="left:256.75px;top:237.31px;font-size:10.5px;transform-origin:0 0;transform:scaleX(0.952);">1</span><span class="t se" style="left:261.75px;top:237.31px;font-size:10.5px;transform-origin:0 0;transform:scaleX(1.059);">,</span><span class="t se" style="left:267.86px;top:237.31px;font-size:10.5px;transform-origin:0 0;transform:scaleX(0.952);">0</span><span class="t se" style="left:272.86px;top:237.31px;font-size:10.5px;transform-origin:0 0;transform:scaleX(1.113);">)</span>
<span class="t se" style="left:359.00px;top:220.41px;font-size:10.5px;transform-origin:0 0;transform:scaleX(1.019);">U</span><span class="t se" style="left:366.73px;top:220.41px;font-size:10.5px;transform-origin:0 0;transform:scaleX(1.091);">n</span><span class="t se" style="left:372.45px;top:220.41px;font-size:10.5px;transform-origin:0 0;transform:scaleX(0.981);">i</span><span class="t se" style="left:375.32px;top:220.41px;font-size:10.5px;transform-origin:0 0;transform:scaleX(0.901);">f</span><span class="t se" style="left:378.47px;top:220.41px;font-size:10.5px;transform-origin:0 0;transform:scaleX(0.981);">o</span><span class="t se" style="left:383.62px;top:220.41px;font-size:10.5px;transform-origin:0 0;transform:scaleX(1.155);">r</span><span class="t se" style="left:387.65px;top:220.41px;font-size:10.5px;transform-origin:0 0;transform:scaleX(1.050);">m</span>
<span class="t se" style="left:364.00px;top:236.21px;font-size:10.5px;transform-origin:0 0;transform:scaleX(1.234);">Δ</span><span class="t se" style="left:372.33px;top:236.21px;font-size:10.5px;transform-origin:0 0;transform:scaleX(1.286);font-style:italic;">S</span>
</div>
</body></html>
